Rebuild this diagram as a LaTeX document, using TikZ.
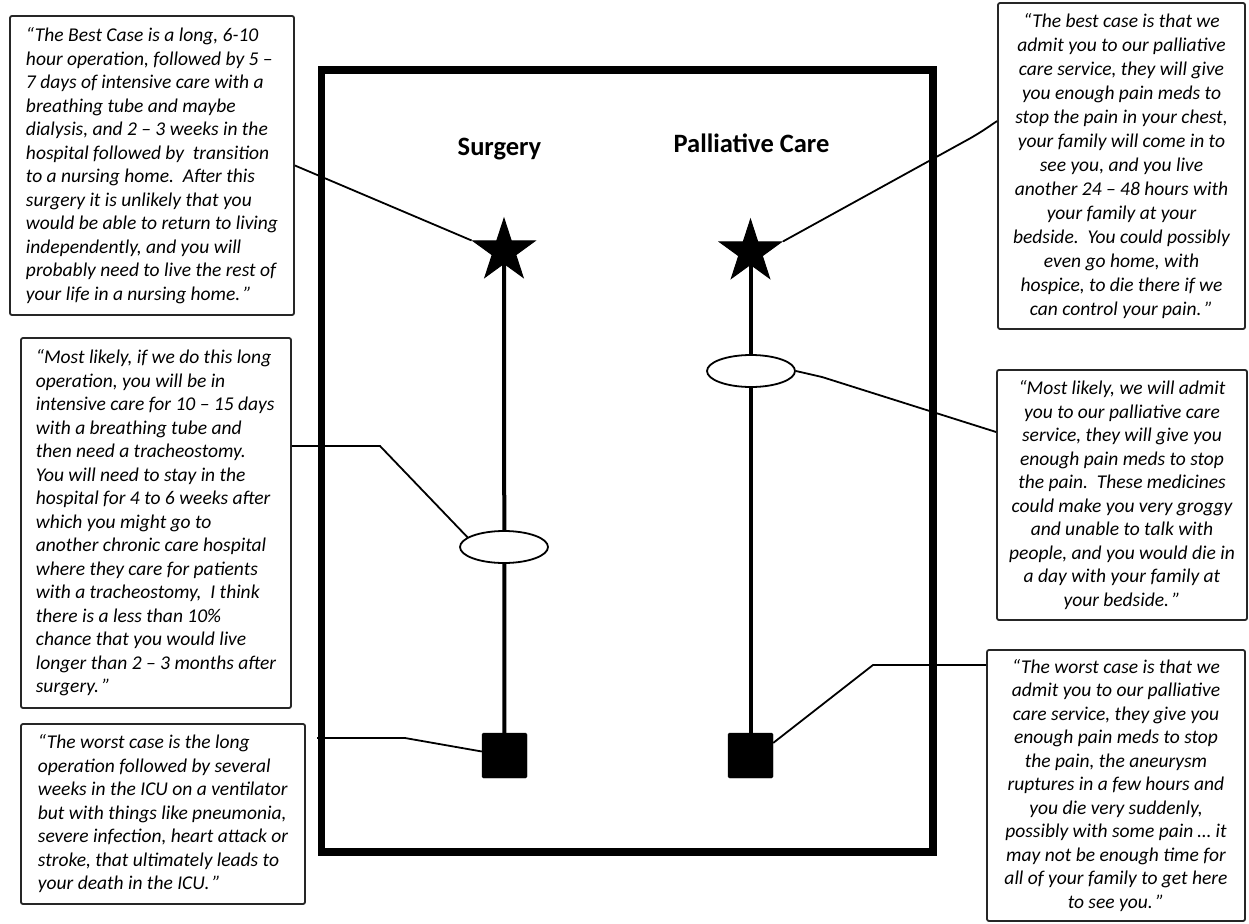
\documentclass[tikz,border=0pt]{standalone}
\usepackage{fontspec}
\setmainfont{Carlito}
\usetikzlibrary{shapes.geometric,backgrounds}
\begin{document}
\begin{tikzpicture}[x=1pt,y=-1pt,
  quote/.style={draw=black!85, line width=1.8pt, rounded corners=2pt, fill=white,
    inner xsep=10pt, inner ysep=4pt,
    font=\fontsize{19.5}{23.5}\selectfont\itshape, text=black},
  lquote/.style={quote, align=left},
  cquote/.style={quote, align=center},
  title/.style={font=\fontsize{26.5}{30}\selectfont\bfseries, anchor=base},
  starnode/.style={star, star points=5, star point ratio=2.618, minimum size=65pt,
    inner sep=0pt, fill=black, draw=black, line width=1pt},
  outcome/.style={ellipse, draw=black, line width=1.8pt, fill=white,
    minimum width=88pt, minimum height=32pt, inner sep=0pt},
  worst/.style={rectangle, fill=black, draw=black, minimum size=45pt, inner sep=0pt,
    rounded corners=1.5pt},
  axis/.style={line width=4pt},
  link/.style={line width=1.8pt},
  frame/.style={line width=7.5pt}
]
\useasboundingbox (0,0) rectangle (1249,923);

% frame
\draw[frame] (321.5,70) rectangle (933,852);

% titles
\node[title] (tS) at (499.5,155) {Surgery};
\node[title] (tP) at (751.5,152) {Palliative Care};

% outcome markers
\node[starnode] (s1) at (504,251) {};
\node[starnode] (s2) at (750.5,252) {};
\node[outcome] (e1) at (504,547) {};
\node[outcome] (e2) at (751,371) {};
\node[worst] (q1) at (504.5,755.5) {};
\node[worst] (q2) at (750.5,755.5) {};

\begin{scope}[on background layer]
  \fill[white] (0,0) rectangle (1249,923);
  \draw[axis] (s1.center) -- (q1.center);
  \draw[axis] (s2.center) -- (q2.center);
\end{scope}

% quote boxes
\node[lquote, minimum width=284pt, minimum height=299pt] (b1) at (152,165.5) {%
“The Best Case is a long, 6-10\\
hour operation, followed by 5 –\\
7 days of intensive care with a\\
breathing tube and maybe\\
dialysis, and 2 – 3 weeks in the\\
hospital followed by\ \ transition\\
to a nursing home.\ \ After this\\
surgery it is unlikely that you\\
would be able to return to living\\
independently, and you will\\
probably need to live the rest of\\
your life in a nursing home.\,”};

\node[cquote, minimum width=247pt, minimum height=326pt,
  font=\fontsize{19.5}{24}\selectfont\itshape] (b2) at (1121.5,166) {%
“The best case is that we\\
admit you to our palliative\\
care service, they will give\\
you enough pain meds to\\
stop the pain in your chest,\\
your family will come in to\\
see you, and you live\\
another 24 – 48 hours with\\
your family at your\\
bedside.\ \ You could possibly\\
even go home, with\\
hospice, to die there if we\\
can control your pain.\,”};

\node[lquote, minimum width=270pt, minimum height=370pt] (b3) at (156,523) {%
“Most likely, if we do this long\\
operation, you will be in\\
intensive care for 10 – 15 days\\
with a breathing tube and\\
then need a tracheostomy.\\
You will need to stay in the\\
hospital for 4 to 6 weeks after\\
which you might go to\\
another chronic care hospital\\
where they care for patients\\
with a tracheostomy,\ \ I think\\
there is a less than 10\%\\
chance that you would live\\
longer than 2 – 3 months after\\
surgery.\,”};

\node[cquote, minimum width=250pt, minimum height=250pt] (b4) at (1122,495) {%
“Most likely, we will admit\\
you to our palliative care\\
service, they will give you\\
enough pain meds to stop\\
the pain.\ \ These medicines\\
could make you very groggy\\
and unable to talk with\\
people, and you would die in\\
a day with your family at\\
your bedside.\,”};

\node[lquote, minimum width=284pt, minimum height=180pt] (b5) at (163,814) {%
“The worst case is the long\\
operation followed by several\\
weeks in the ICU on a ventilator\\
but with things like pneumonia,\\
severe infection, heart attack or\\
stroke, that ultimately leads to\\
your death in the ICU.\,”};

\node[cquote, minimum width=258pt, minimum height=271pt] (b6) at (1116,785.5) {%
“The worst case is that we\\
admit you to our palliative\\
care service, they give you\\
enough pain meds to stop\\
the pain, the aneurysm\\
ruptures in a few hours and\\
you die very suddenly,\\
possibly with some pain … it\\
may not be enough time for\\
all of your family to get here\\
to see you.\,”};

% connector bends
\coordinate (k2) at (978,134);
\coordinate (k3) at (380,446);
\coordinate (k4) at (822,377);
\coordinate (k5a) at (317,738);
\coordinate (k5) at (405,738);
\coordinate (k6) at (873,665);

% connectors
\draw[link] (b1.east) -- (s1.outer point 2);
\draw[link, rounded corners=10pt] ([yshift=45pt]b2.west) -- (k2) -- (s2.outer point 5);
\draw[link] ([yshift=77pt]b3.east) -- (k3) -- (e1.165);
\draw[link] (e2.east) -- (k4) -- ([yshift=63pt]b4.west);
\draw[link] (k5a) -- (k5) -- (q1.170);
\draw[link] ([yshift=120.5pt]b6.west) -- (k6) -- (q2.29);
\end{tikzpicture}
\end{document}
